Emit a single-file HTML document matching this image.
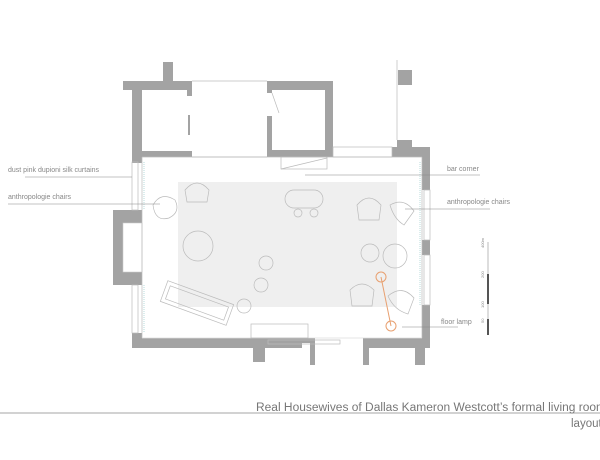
<!DOCTYPE html>
<html><head><style>
html,body{margin:0;padding:0;background:#fff;width:600px;height:460px;overflow:hidden}
svg{display:block;font-family:"Liberation Sans",sans-serif}
</style></head><body>
<svg width="600" height="460" viewBox="0 0 600 460" xmlns="http://www.w3.org/2000/svg">
<!-- rug -->
<rect x="178" y="182" width="219" height="125" fill="#efefef"/>
<g fill="#a3a3a3">
<!-- top-left room -->
<rect x="163" y="62" width="10" height="20"/>
<rect x="123" y="81" width="69" height="9"/>
<rect x="132" y="88" width="10" height="75"/>
<rect x="142" y="151" width="50" height="6"/>
<rect x="187" y="88" width="5" height="8"/>
<!-- middle room -->
<rect x="267" y="81" width="66" height="9"/>
<rect x="267" y="88" width="5" height="5"/>
<rect x="267" y="116" width="5" height="41"/>
<rect x="272" y="150" width="61" height="7"/>
<rect x="325" y="81" width="8" height="76"/>
<!-- top right -->
<rect x="398" y="70" width="14" height="15"/>
<rect x="397" y="140" width="15" height="8"/>
<rect x="392" y="147" width="38" height="10"/>
<rect x="422" y="157" width="8" height="33"/>
<rect x="422" y="240" width="8" height="15"/>
<rect x="422" y="305" width="8" height="43"/>
<!-- left -->
<rect x="113" y="210" width="29" height="75"/>
<rect x="132" y="333" width="10" height="15"/>
<!-- bottom -->
<rect x="132" y="338" width="170" height="10"/>
<rect x="253" y="348" width="12" height="14"/>
<rect x="297" y="338" width="18" height="5"/>
<rect x="310" y="343" width="5" height="22"/>
<rect x="363" y="338" width="67" height="10"/>
<rect x="363" y="348" width="6" height="17"/>
<rect x="415" y="348" width="10" height="17"/>
</g>
<rect x="123" y="223" width="19" height="49" fill="#fff" stroke="#ccc" stroke-width="0.6"/>
<g fill="none" stroke="#bbb" stroke-width="0.7">
<line x1="192" y1="81" x2="267" y2="81"/>
<line x1="192" y1="157" x2="267" y2="157"/>
<line x1="189" y1="115" x2="189" y2="135" stroke="#666" stroke-width="1.2"/>
<line x1="272" y1="93" x2="279" y2="113"/>
<line x1="397" y1="60" x2="397" y2="140"/>
<rect x="333" y="147" width="59" height="10"/>
<rect x="281" y="157" width="46" height="12"/>
<line x1="281" y1="169" x2="327" y2="158"/>
<line x1="142" y1="157" x2="422" y2="157"/>
<line x1="142" y1="157" x2="142" y2="338"/>
<line x1="422" y1="157" x2="422" y2="338"/>
<line x1="142" y1="338" x2="422" y2="338" stroke="#ddd"/>
<rect x="132" y="162" width="6" height="48"/>
<rect x="132" y="285" width="6" height="48"/>
<rect x="424" y="190" width="6" height="50"/>
<rect x="424" y="255" width="6" height="50"/>
<line x1="144" y1="162" x2="144" y2="210" stroke-dasharray="1 1" stroke="#9cc"/>
<line x1="144" y1="285" x2="144" y2="333" stroke-dasharray="1 1" stroke="#9cc"/>
<line x1="420" y1="162" x2="420" y2="305" stroke-dasharray="1 1" stroke="#9cc"/>
<rect x="251" y="324" width="57" height="14"/>
<rect x="268" y="340" width="72" height="4"/>
<!-- furniture -->
<rect x="285" y="190" width="38" height="18" rx="9"/>
<circle cx="298" cy="213" r="4"/><circle cx="314" cy="213" r="4"/>
<circle cx="198" cy="246" r="15"/>
<circle cx="266" cy="263" r="7"/>
<circle cx="261" cy="285" r="7"/>
<circle cx="244" cy="306" r="7"/>
<circle cx="370" cy="253" r="9"/>
<circle cx="395" cy="256" r="12"/>
<path d="M153 205 q8 -14 22 -5 q6 12 -6 18 q-14 4 -16 -13z"/>
<path d="M185 190 q12 -14 24 0 l-2 12 h-20z"/>
<path d="M357 205 q12 -14 24 0 l-2 15 h-20z"/>
<path d="M390 205 q14 -8 24 6 l-10 14 q-10 -6 -14 -20z"/>
<path d="M350 290 q12 -12 24 0 l-2 16 h-20z"/>
<path d="M388 296 q14 -12 26 2 l-6 16 q-14 -4 -20 -18z"/>
<g transform="rotate(20 197 303)"><rect x="162" y="292" width="70" height="22"/><rect x="166" y="296" width="62" height="14"/></g>
</g>
<g stroke="#e8a070" fill="none" stroke-width="1">
<circle cx="381" cy="277" r="5"/><circle cx="391" cy="326" r="5"/>
<line x1="381" y1="277" x2="391" y2="326"/>
</g>
<!-- labels -->
<g fill="#888" font-size="7">
<text x="8" y="172">dust pink dupioni silk curtains</text>
<text x="8" y="199">anthropologie chairs</text>
<text x="447" y="171">bar corner</text>
<text x="447" y="204">anthropologie chairs</text>
<text x="441" y="324">floor lamp</text>
</g>
<g stroke="#888" stroke-width="0.6">
<line x1="25" y1="177" x2="132" y2="177"/>
<line x1="8" y1="204" x2="160" y2="204"/>
<line x1="305" y1="175" x2="480" y2="175"/>
<line x1="405" y1="209" x2="490" y2="209"/>
<line x1="402" y1="327" x2="458" y2="327"/>
</g>
<rect x="487" y="242" width="2" height="32" fill="#ddd"/>
<rect x="487" y="274" width="2" height="30" fill="#555"/>
<rect x="487" y="304" width="2" height="15" fill="#ddd"/>
<rect x="487" y="319" width="2" height="16" fill="#555"/>
<g fill="#888" font-size="4">
<text x="484" y="248" transform="rotate(-90 484 248)">400m</text>
<text x="484" y="278" transform="rotate(-90 484 278)">200</text>
<text x="484" y="308" transform="rotate(-90 484 308)">100</text>
<text x="484" y="323" transform="rotate(-90 484 323)">50</text>
</g>
<line x1="0" y1="413" x2="600" y2="413" stroke="#888" stroke-width="0.8"/>
<text x="256" y="411" fill="#777" font-size="11.5" textLength="350" lengthAdjust="spacingAndGlyphs">Real Housewives of Dallas Kameron Westcott’s formal living room</text>
<text x="571" y="427" fill="#777" font-size="11.5">layout</text>
</svg>
</body></html>
